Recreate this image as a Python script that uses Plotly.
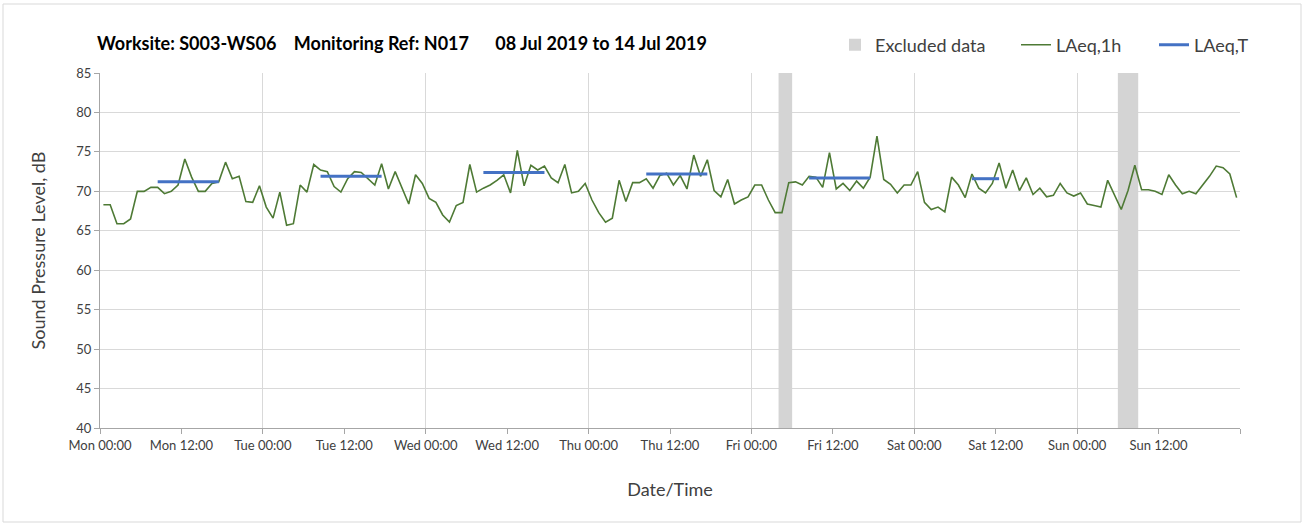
import pandas as pd
import plotly.graph_objects as go

# ---------------- data ----------------
week_start = "2019-07-08 00:00"
week_end = "2019-07-15 00:00"

# Hourly LAeq,1h values (Mon 00:00-01:00 ... Sun 23:00-24:00)
laeq_1h = [
    68.3, 68.3, 65.9, 65.9, 66.5, 70.0, 70.0, 70.5, 70.5, 69.7, 70.0, 70.8, 74.1, 71.8, 70.0, 70.0,
    71.0, 71.2, 73.7, 71.6, 71.9, 68.7, 68.6, 70.7, 68.0, 66.6, 69.9, 65.7, 65.9,
    70.8, 69.9, 73.4, 72.7, 72.5, 70.6, 69.9, 71.6, 72.5, 72.4, 71.6, 70.8, 73.5, 70.3, 72.5,
    70.5, 68.4, 72.1, 71.0, 69.1, 68.6, 67.0, 66.1, 68.2, 68.6, 73.4, 69.9, 70.4,
    70.8, 71.4, 72.1, 69.8, 75.2, 70.7, 73.3, 72.7, 73.2, 71.7, 71.1, 73.4, 69.8, 70.0,
    71.0, 68.9, 67.3, 66.1, 66.6, 71.4, 68.7, 71.1, 71.1, 71.6, 70.4, 72.0, 72.3, 70.8,
    72.0, 70.3, 74.6, 71.9, 74.0, 70.1, 69.3, 71.5, 68.4, 68.9, 69.3, 70.8, 70.8, 68.9,
    67.3, 67.3, 71.1, 71.2, 70.8, 71.9, 71.8, 70.5, 74.9, 70.3, 71.0, 70.1, 71.3, 70.4,
    71.8, 77.0, 71.5, 70.9, 69.8, 70.8, 70.8, 72.5, 68.6, 67.7, 68.0, 67.4, 71.8, 70.8,
    69.2, 72.2, 70.4, 69.8, 71.0, 73.6, 70.4, 72.7, 70.1, 71.7, 69.6, 70.4, 69.3, 69.5,
    71.0, 69.8, 69.4, 69.8, 68.4, 68.2, 68.0, 71.4, 69.6, 67.7, 70.1, 73.3, 70.2, 70.2,
    70.0, 69.6, 72.1, 70.8, 69.7, 70.0, 69.7, 70.8, 71.9, 73.2, 73.0, 72.2, 69.2,
]

# LAeq,T working periods
laeqT_start = ["2019-07-08 08:00", "2019-07-09 08:00", "2019-07-10 08:00",
               "2019-07-11 08:00", "2019-07-12 08:00", "2019-07-13 08:00"]
laeqT_end = ["2019-07-08 18:00", "2019-07-09 18:00", "2019-07-10 18:00",
             "2019-07-11 18:00", "2019-07-12 18:00", "2019-07-13 13:00"]
laeqT_values = [71.2, 71.9, 72.4, 72.2, 71.7, 71.6]

# Excluded data periods
excluded_start = ["2019-07-12 04:00", "2019-07-14 06:00"]
excluded_end = ["2019-07-12 06:00", "2019-07-14 09:00"]

tick_labels = ["Mon 00:00", "Mon 12:00", "Tue 00:00", "Tue 12:00", "Wed 00:00", "Wed 12:00",
               "Thu 00:00", "Thu 12:00", "Fri 00:00", "Fri 12:00", "Sat 00:00", "Sat 12:00",
               "Sun 00:00", "Sun 12:00", ""]

title_text = ("Worksite: S003-WS06\u00a0\u00a0\u00a0\u00a0Monitoring Ref: N017"
              "\u00a0\u00a0\u00a0\u00a0\u00a0\u00a008 Jul 2019 to 14 Jul 2019")

# ---------------- build ----------------
t0 = pd.Timestamp(week_start)
half = pd.Timedelta(minutes=30)
hour_x = [t0 + half + pd.Timedelta(hours=i) for i in range(len(laeq_1h))]

tx, ty = [], []
for s, e, v in zip(laeqT_start, laeqT_end, laeqT_values):
    pts = pd.date_range(pd.Timestamp(s) + half, pd.Timestamp(e) - half, freq="h")
    tx += list(pts) + [None]
    ty += [v] * len(pts) + [None]

ex_mid, ex_w = [], []
for s, e in zip(excluded_start, excluded_end):
    s, e = pd.Timestamp(s), pd.Timestamp(e)
    ex_mid.append(s + (e - s) / 2)
    ex_w.append((e - s).total_seconds() * 1000)

tickvals = [t0 + pd.Timedelta(hours=12 * k) for k in range(len(tick_labels))]
daygrid = [t0 + pd.Timedelta(hours=24 * k) for k in range(8)]

font = "Lato, 'Open Sans', sans-serif"
fig = go.Figure()
fig.add_trace(go.Bar(x=ex_mid, y=[45] * len(ex_mid), base=40, width=ex_w,
                     marker=dict(color="#D4D4D4", line=dict(width=0)),
                     name="Excluded data", hoverinfo="skip", legend="legend"))
fig.add_trace(go.Scatter(x=hour_x, y=laeq_1h, mode="lines", name="LAeq,1h",
                         line=dict(color="#4E7A35", width=1.6), legend="legend2"))
fig.add_trace(go.Scatter(x=tx, y=ty, mode="lines", name="LAeq,T",
                         line=dict(color="#4472C4", width=3), legend="legend3"))
fig.add_trace(go.Scatter(x=[t0], y=[None], xaxis="x2", showlegend=False,
                         hoverinfo="skip", mode="lines"))

L, R, T, B = 100, 66, 73, 98
W, H = 1306, 526
pw, ph = W - L - R, H - T - B
leg_y = (H - B - 45) / ph


def leg(xpx):
    return dict(orientation="h", x=(xpx - L) / pw, xanchor="left", y=leg_y,
                yanchor="middle", font=dict(size=18, color="#404040"), itemwidth=30,
                bgcolor="rgba(0,0,0,0)")


fig.update_layout(
    width=W, height=H,
    margin=dict(l=L, r=R, t=T, b=B, autoexpand=False),
    paper_bgcolor="white", plot_bgcolor="white",
    font=dict(family=font, color="#404040"),
    title=dict(text="<b>" + title_text + "</b>", x=97 / W, xanchor="left",
               y=1 - 44 / H, yanchor="middle", xref="container", yref="container",
               font=dict(size=18, color="#000000", family=font)),
    legend=leg(835),
    legend2=leg(1016),
    legend3=leg(1154),
    xaxis=dict(type="date", range=[week_start, week_end],
               tickmode="array", tickvals=tickvals, ticktext=tick_labels,
               showgrid=False, showline=True, linecolor="#A6A6A6", linewidth=1,
               ticks="outside", ticklen=5, tickcolor="#A6A6A6",
               tickfont=dict(size=13, color="#404040"),
               title=dict(text="Date/Time", font=dict(size=18, color="#404040"), standoff=31),
               zeroline=False),
    xaxis2=dict(type="date", range=[week_start, week_end], overlaying="x",
                tickmode="array", tickvals=daygrid, showticklabels=False, ticks="",
                showgrid=True, gridcolor="#D9D9D9", gridwidth=1, showline=False,
                zeroline=False),
    yaxis=dict(range=[40, 85], dtick=5, tick0=40, showgrid=True, gridcolor="#D9D9D9",
               gridwidth=1, showline=True, linecolor="#A6A6A6", linewidth=1,
               ticks="outside", ticklen=5, tickcolor="#A6A6A6",
               tickfont=dict(size=13, color="#404040"), zeroline=False,
               title=dict(text="Sound Pressure Level, dB", font=dict(size=18, color="#404040"),
                          standoff=26)),
    shapes=[dict(type="rect", xref="paper", yref="paper",
                 x0=(3 - L) / pw, x1=(1301 - L) / pw,
                 y0=-(522 - (H - B)) / ph, y1=(H - B - 4) / ph,
                 line=dict(color="#D9D9D9", width=1), fillcolor="rgba(0,0,0,0)",
                 layer="below")],
    showlegend=True,
)

fig.write_html("out.html", config={"displayModeBar": False},
               post_script="document.body.style.margin='0px';")
